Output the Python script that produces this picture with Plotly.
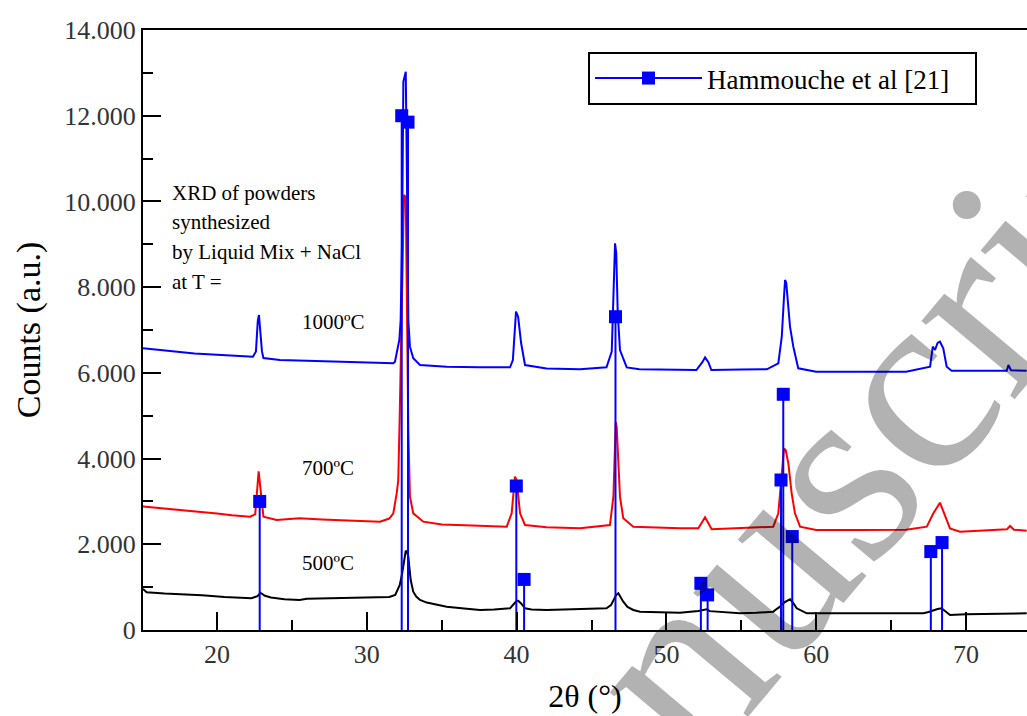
import plotly.graph_objects as go

# ---------------- data ----------------
x_500 = [15.06, 15.3, 16.5, 18.0, 19.0, 20.5, 21.5, 22.3, 22.7, 22.9, 23.2, 23.6, 24.5, 25.5, 26, 28, 30, 31.5,
         31.9, 32.1, 32.2, 32.35, 32.48, 32.6, 32.7, 32.77, 32.93, 33.1, 33.3, 33.55, 34, 35.33, 36.5, 37.56,
         38.5, 39.56, 39.8, 40.0, 40.11, 40.3, 40.56, 41, 42, 44, 46.0, 46.3, 46.46, 46.65, 46.79, 46.95, 47.12,
         47.4, 47.79, 48.24, 50, 50.9, 52.13, 52.5, 52.69, 52.9, 54.91, 56, 57.13, 57.4, 57.58, 57.9, 58.25,
         58.4, 58.7, 59.37, 61.6, 64, 67.15, 67.5, 67.82, 68.1, 68.37, 68.6, 68.93, 70, 72, 74.05]
y_500 = [960, 880, 850, 830, 810, 770, 750, 740, 790, 870, 800, 760, 720, 700, 730, 740, 750, 770,
         820, 950, 1050, 1300, 1556, 1851, 1800, 1711, 1167, 894, 780, 700, 640, 544, 500, 467,
         480, 506, 600, 680, 684, 620, 506, 480, 467, 480, 506, 580, 700, 820, 856, 760, 661,
         540, 467, 428, 420, 404, 443, 470, 482, 440, 389, 400, 428, 500, 544, 650, 716,
         660, 506, 389, 389, 390, 389, 420, 467, 490, 506, 440, 350, 370, 380, 389]

x_700 = [15.06, 16, 17, 18.87, 20, 21, 22.2, 22.55, 22.7, 22.78, 22.9, 23.1, 23.98, 25.5, 27, 29, 30.88, 31.5,
         31.77, 32.0, 32.1, 32.2, 32.35, 32.48, 32.6, 32.68, 32.77, 32.88, 33.1, 33.77, 35, 37, 39.34, 39.67,
         39.8, 39.89, 40.0, 40.11, 40.23, 40.56, 42, 44.23, 46.23, 46.46, 46.57, 46.62, 46.68, 46.9, 47.12,
         47.79, 50.9, 52.13, 52.58, 53.02, 55, 57.13, 57.47, 57.7, 57.85, 57.96, 58.14, 58.36, 58.58, 58.92,
         60, 63, 66, 67.38, 67.82, 68.26, 68.6, 68.93, 69.6, 72.72, 72.94, 73.2, 74.05]
y_700 = [2880, 2850, 2830, 2762, 2720, 2680, 2644, 2700, 3300, 3700, 3300, 2644, 2567, 2606, 2580, 2560, 2528, 2600,
         2722, 3200, 3500, 5056, 8000, 10150, 10100, 8000, 4667, 3111, 2722, 2528, 2460, 2440, 2411, 2722,
         3200, 3578, 3500, 3189, 2722, 2450, 2400, 2372, 2450, 3111, 4800, 4850, 4744, 3111, 2606,
         2411, 2372, 2372, 2629, 2349, 2380, 2411, 2722, 3578, 4239, 4200, 3889, 3189, 2722, 2411,
         2333, 2333, 2340, 2411, 2722, 2971, 2644, 2372, 2294, 2349, 2427, 2340, 2318]

x_1000 = [15.06, 16, 17, 18.5, 20, 21.5, 22.4, 22.6, 22.72, 22.8, 22.9, 23.0, 23.1, 24.2, 26, 28, 30, 31.77,
          31.88, 32.17, 32.26, 32.35, 32.44, 32.52, 32.6, 32.68, 32.77, 32.88, 33.1, 33.55, 35.33, 37.5, 39.56,
          39.75, 39.9, 39.96, 40.1, 40.3, 40.56, 42, 44.23, 46.0, 46.35, 46.48, 46.57, 46.65, 46.75, 46.9,
          47.35, 48.2, 50.9, 52.0, 52.4, 52.58, 52.8, 53.0, 55, 56.7, 57.47, 57.7, 57.85, 57.92, 58.0, 58.14,
          58.25, 58.47, 58.8, 60, 63, 66, 67.6, 67.78, 67.93, 68.1, 68.26, 68.48, 68.71, 69.04, 72.72, 72.83,
          73.0, 74.05]
y_1000 = [6572, 6540, 6500, 6450, 6420, 6400, 6378, 6500, 7200, 7350, 7000, 6500, 6347, 6300, 6280, 6260, 6240, 6222,
          6261, 6767, 7233, 9000, 12793, 12900, 13027, 10500, 7233, 6611, 6339, 6183, 6144, 6130, 6128,
          6300, 7000, 7428, 7311, 6697, 6183, 6100, 6082, 6128, 6494, 7800, 9022, 8800, 7400, 6533,
          6128, 6082, 6067, 6067, 6250, 6362, 6250, 6067, 6080, 6082, 6222, 6844, 7778, 8167, 8100, 7622,
          7078, 6611, 6106, 6028, 6030, 6028, 6144, 6611, 6533, 6700, 6727, 6572, 6144, 6051, 6051, 6183,
          6060, 6051]

ref_x = [22.85, 32.33, 32.75, 39.98, 40.5, 46.6, 52.3, 52.75, 57.65, 57.8, 58.4, 67.65, 68.4]
ref_y = [3000, 12000, 11850, 3360, 1180, 7310, 1090, 820, 3500, 5500, 2180, 1830, 2040]
ref_name = "Hammouche et al [21]"

y_ticks = [0, 2000, 4000, 6000, 8000, 10000, 12000, 14000]
y_tick_labels = ["0", "2.000", "4.000", "6.000", "8.000", "10.000", "12.000", "14.000"]

info_lines = ["XRD of powders", "synthesized", "by Liquid Mix + NaCl", "at T ="]
temp_labels = ["1000ºC", "700ºC", "500ºC"]

# ---------------- figure ----------------
SERIF = "Liberation Serif, Times New Roman, serif"
L, R, T, B = 143, 0, 30, 86
W, H = 1027, 716
pw, ph = W - L - R, H - T - B


def px(xp):
    return (xp - L) / pw


def py(yp):
    return (H - B - yp) / ph


fig = go.Figure()
for xs, ys, col in [(x_500, y_500, "black"), (x_700, y_700, "red"), (x_1000, y_1000, "blue")]:
    fig.add_trace(go.Scatter(x=xs, y=ys, mode="lines", line=dict(color=col, width=2),
                             showlegend=False, hoverinfo="skip"))

stick_x, stick_y = [], []
for xv, yv in zip(ref_x, ref_y):
    stick_x += [xv, xv, None]
    stick_y += [0, yv, None]
fig.add_trace(go.Scatter(x=stick_x, y=stick_y, mode="lines", line=dict(color="blue", width=2),
                         showlegend=False, hoverinfo="skip"))
fig.add_trace(go.Scatter(x=ref_x, y=ref_y, mode="markers",
                         marker=dict(symbol="square", size=13, color="blue"),
                         showlegend=False, hoverinfo="skip"))
# legend entry (trailing no-break spaces only widen the legend box)
fig.add_trace(go.Scatter(x=[None], y=[None], mode="lines+markers", name=ref_name + "\u00a0" * 3,
                         line=dict(color="blue", width=2),
                         marker=dict(symbol="square", size=13, color="blue")))

annotations = []
for txt, yp in zip(info_lines, [193, 222, 252, 281.7]):
    annotations.append(dict(text=txt, xref="paper", yref="paper", x=px(170), y=py(yp),
                            xanchor="left", yanchor="middle", showarrow=False,
                            font=dict(family=SERIF, size=21, color="black")))
for txt, yp in zip(temp_labels, [321.7, 468, 562.7]):
    annotations.append(dict(text=txt, xref="paper", yref="paper", x=px(300), y=py(yp),
                            xanchor="left", yanchor="middle", showarrow=False,
                            font=dict(family=SERIF, size=21, color="black")))
# watermark
annotations.append(dict(text="Manuscript", xref="paper", yref="paper", x=px(792), y=py(526),
                        xanchor="center", yanchor="middle", showarrow=False, textangle=-50,
                        font=dict(family=SERIF, size=265, color="rgba(0,0,0,0.3)")))

fig.update_layout(
    width=W, height=H,
    margin=dict(l=L, r=R, t=T, b=B, pad=0),
    paper_bgcolor="white", plot_bgcolor="white",
    font=dict(family=SERIF, color="black"),
    xaxis=dict(range=[15.06, 74.07], showline=True, linecolor="black", linewidth=2, mirror=True,
               ticks="inside", ticklen=18, tickwidth=2, tickcolor="black", dtick=10, tick0=0,
               minor=dict(ticks="inside", ticklen=10, tickwidth=2, tickcolor="black", dtick=5, tick0=0),
               showgrid=False, zeroline=False,
               tickfont=dict(family=SERIF, size=26, color="#333333"),
               title=dict(text="2θ (°)", font=dict(family=SERIF, size=32, color="black"), standoff=16)),
    yaxis=dict(range=[0, 14000], showline=True, linecolor="black", linewidth=2,
               ticks="inside", ticklen=18, tickwidth=2, tickcolor="black",
               tickmode="array", tickvals=y_ticks, ticktext=y_tick_labels,
               minor=dict(ticks="inside", ticklen=10, tickwidth=2, tickcolor="black", dtick=1000, tick0=0),
               showgrid=False, zeroline=False,
               tickfont=dict(family=SERIF, size=26, color="#333333"),
               title=dict(text="Counts (a.u.)", font=dict(family=SERIF, size=34, color="black"), standoff=13)),
    legend=dict(x=px(588), y=py(52), xanchor="left", yanchor="top", bgcolor="white",
                bordercolor="black", borderwidth=2, itemwidth=107,
                font=dict(family=SERIF, size=27, color="black")),
    annotations=annotations,
)

fig.write_html("out.html", config={"displayModeBar": False},
               post_script="document.body.style.margin='0px';")
